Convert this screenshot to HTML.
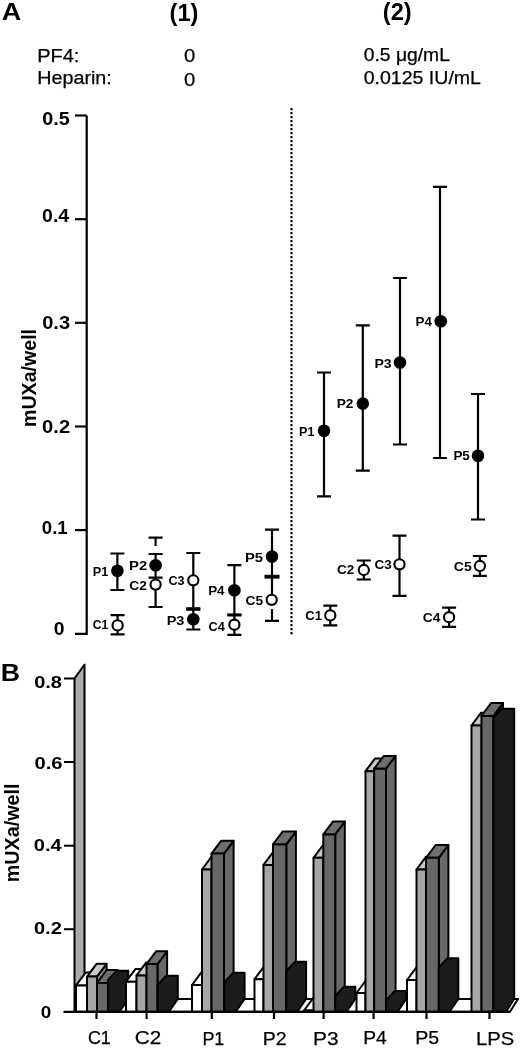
<!DOCTYPE html>
<html><head><meta charset="utf-8"><style>
html,body{margin:0;padding:0;background:#fff;width:520px;height:1048px;overflow:hidden}
</style></head><body>
<svg width="520" height="1048" viewBox="0 0 520 1048" style="display:block;will-change:transform">
<rect width="520" height="1048" fill="#fff"/>
<g stroke="#000" stroke-width="2.2" fill="none">
<path d="M86.7,115.5 V633.8 H75"/>
<path d="M75,530.1 H86.7"/>
<path d="M75,426.5 H86.7"/>
<path d="M75,322.8 H86.7"/>
<path d="M75,219.2 H86.7"/>
<path d="M75,115.5 H86.7"/>
</g>
<line x1="291.5" y1="108" x2="291.5" y2="636" stroke="#000" stroke-width="2.2" stroke-dasharray="2.2 1.8"/>
<path d="M117.4,553.5 V590 M110.4,553.5 h14 M110.4,590 h14" stroke="#000" stroke-width="2.2" fill="none"/>
<circle cx="117.4" cy="570.8" r="6.3" fill="#000"/>
<path d="M117.6,615.2 V634.4 M110.6,615.2 h14 M110.6,634.4 h14" stroke="#000" stroke-width="2.2" fill="none"/>
<circle cx="117.6" cy="625.4" r="5.1" fill="#fff" stroke="#000" stroke-width="2.1"/>
<path d="M155.6,537.7 V546 M148.6,537.7 h14" stroke="#000" stroke-width="2.2" fill="none"/>
<path d="M155.6,554 V577.7 M148.6,554 h14 M148.6,577.7 h14" stroke="#000" stroke-width="2.2" fill="none"/>
<circle cx="155.6" cy="565.2" r="6.3" fill="#000"/>
<path d="M155.6,577.7 V607 M148.6,607 h14" stroke="#000" stroke-width="2.2" fill="none"/>
<circle cx="155.6" cy="584.6" r="5.1" fill="#fff" stroke="#000" stroke-width="2.1"/>
<path d="M193.3,553 V609 M186.3,553 h14 M186.3,609 h14" stroke="#000" stroke-width="2.2" fill="none"/>
<circle cx="193.3" cy="580.3" r="5.1" fill="#fff" stroke="#000" stroke-width="2.1"/>
<path d="M186.3,609 h14" stroke="#000" stroke-width="3.6"/>
<path d="M193.3,609 V629.5 M186.3,629.5 h14" stroke="#000" stroke-width="2.2" fill="none"/>
<circle cx="193.3" cy="619.2" r="6.3" fill="#000"/>
<path d="M234.4,565.2 V614.8 M227.4,565.2 h14 M227.4,614.8 h14" stroke="#000" stroke-width="2.2" fill="none"/>
<circle cx="234.4" cy="590.3" r="6.3" fill="#000"/>
<path d="M227.4,615 h14" stroke="#000" stroke-width="3.0"/>
<path d="M234.4,614.8 V634.8 M227.4,634.8 h14" stroke="#000" stroke-width="2.2" fill="none"/>
<circle cx="234.4" cy="624.7" r="5.1" fill="#fff" stroke="#000" stroke-width="2.1"/>
<path d="M272,529.6 V576.7 M265.0,529.6 h14 M265.0,576.7 h14" stroke="#000" stroke-width="2.2" fill="none"/>
<circle cx="272" cy="556.5" r="6.3" fill="#000"/>
<path d="M264.5,576.7 h15" stroke="#000" stroke-width="3.8"/>
<path d="M272,576.7 V594" stroke="#000" stroke-width="2.2" fill="none"/>
<path d="M272,609 V620.8 M265.0,620.8 h14" stroke="#000" stroke-width="2.2" fill="none"/>
<circle cx="271.7" cy="599.8" r="5.1" fill="#fff" stroke="#000" stroke-width="2.1"/>
<path d="M324,372.5 V496.3 M317.0,372.5 h14 M317.0,496.3 h14" stroke="#000" stroke-width="2.2" fill="none"/>
<circle cx="324" cy="430.8" r="6.3" fill="#000"/>
<path d="M362.8,325.4 V470.6 M355.8,325.4 h14 M355.8,470.6 h14" stroke="#000" stroke-width="2.2" fill="none"/>
<circle cx="362.8" cy="403.6" r="6.3" fill="#000"/>
<path d="M400,278 V444.5 M393.0,278 h14 M393.0,444.5 h14" stroke="#000" stroke-width="2.2" fill="none"/>
<circle cx="400" cy="362.5" r="6.3" fill="#000"/>
<path d="M440,186.9 V458 M433.0,186.9 h14 M433.0,458 h14" stroke="#000" stroke-width="2.2" fill="none"/>
<circle cx="440.8" cy="321.2" r="6.3" fill="#000"/>
<path d="M478,394 V519.5 M471.0,394 h14 M471.0,519.5 h14" stroke="#000" stroke-width="2.2" fill="none"/>
<circle cx="478" cy="455.8" r="6.3" fill="#000"/>
<path d="M330.3,605.7 V625.4 M323.3,605.7 h14 M323.3,625.4 h14" stroke="#000" stroke-width="2.2" fill="none"/>
<circle cx="330.3" cy="615.4" r="5.1" fill="#fff" stroke="#000" stroke-width="2.1"/>
<path d="M363.8,560.5 V579.5 M356.8,560.5 h14 M356.8,579.5 h14" stroke="#000" stroke-width="2.2" fill="none"/>
<circle cx="363.8" cy="570" r="5.1" fill="#fff" stroke="#000" stroke-width="2.1"/>
<path d="M399.5,535.7 V595.8 M392.5,535.7 h14 M392.5,595.8 h14" stroke="#000" stroke-width="2.2" fill="none"/>
<circle cx="399.5" cy="564.3" r="5.1" fill="#fff" stroke="#000" stroke-width="2.1"/>
<path d="M449.1,607.6 V626.8 M442.1,607.6 h14 M442.1,626.8 h14" stroke="#000" stroke-width="2.2" fill="none"/>
<circle cx="449.1" cy="617.2" r="5.1" fill="#fff" stroke="#000" stroke-width="2.1"/>
<path d="M479.9,556 V575.9 M472.9,556 h14 M472.9,575.9 h14" stroke="#000" stroke-width="2.2" fill="none"/>
<circle cx="479.9" cy="566" r="5.1" fill="#fff" stroke="#000" stroke-width="2.1"/>
<polygon points="74.5,1011.8 510.0,1011.8 518.0,999.0 84.5,999.0" fill="#fff" stroke="#000" stroke-width="2.0" stroke-linejoin="round"/>
<polygon points="74.5,1011.8 74.5,678.5 84.5,664.5 84.5,999.0" fill="#acacac" stroke="#000" stroke-width="2.0" stroke-linejoin="round"/>
<polygon points="87.0,1011.8 87.0,985.4 96.6,972.6 96.6,999.0" fill="#ffffff" stroke="#000" stroke-width="2.0" stroke-linejoin="round"/>
<polygon points="76.0,985.4 87.0,985.4 96.6,972.6 85.6,972.6" fill="#ffffff" stroke="#000" stroke-width="2.0" stroke-linejoin="round"/>
<polygon points="76.0,1011.8 76.0,985.4 87.0,985.4 87.0,1011.8" fill="#ffffff" stroke="#000" stroke-width="2.0" stroke-linejoin="round"/>
<polygon points="97.0,1011.8 97.0,976.6 106.6,963.8 106.6,999.0" fill="#969696" stroke="#000" stroke-width="2.0" stroke-linejoin="round"/>
<polygon points="87.0,976.6 97.0,976.6 106.6,963.8 96.6,963.8" fill="#c8c8c8" stroke="#000" stroke-width="2.0" stroke-linejoin="round"/>
<polygon points="87.0,1011.8 87.0,976.6 97.0,976.6 97.0,1011.8" fill="#a6a6a6" stroke="#000" stroke-width="2.0" stroke-linejoin="round"/>
<polygon points="108.0,1011.8 108.0,982.9 117.6,970.1 117.6,999.0" fill="#696969" stroke="#000" stroke-width="2.0" stroke-linejoin="round"/>
<polygon points="97.0,982.9 108.0,982.9 117.6,970.1 106.6,970.1" fill="#6e6e6e" stroke="#000" stroke-width="2.0" stroke-linejoin="round"/>
<polygon points="97.0,1011.8 97.0,982.9 108.0,982.9 108.0,1011.8" fill="#676767" stroke="#000" stroke-width="2.0" stroke-linejoin="round"/>
<polygon points="108.0,1011.8 108.0,980.0 116.8,970.8 128.3,970.8 128.3,999.0 119.5,1011.8" fill="#1c1c1c" stroke="#000" stroke-width="2.0" stroke-linejoin="round"/>
<polygon points="136.5,1011.8 136.5,981.7 146.1,968.9 146.1,999.0" fill="#ffffff" stroke="#000" stroke-width="2.0" stroke-linejoin="round"/>
<polygon points="126.0,981.7 136.5,981.7 146.1,968.9 135.6,968.9" fill="#ffffff" stroke="#000" stroke-width="2.0" stroke-linejoin="round"/>
<polygon points="126.0,1011.8 126.0,981.7 136.5,981.7 136.5,1011.8" fill="#ffffff" stroke="#000" stroke-width="2.0" stroke-linejoin="round"/>
<polygon points="146.5,1011.8 146.5,975.4 156.1,962.6 156.1,999.0" fill="#969696" stroke="#000" stroke-width="2.0" stroke-linejoin="round"/>
<polygon points="136.5,975.4 146.5,975.4 156.1,962.6 146.1,962.6" fill="#c8c8c8" stroke="#000" stroke-width="2.0" stroke-linejoin="round"/>
<polygon points="136.5,1011.8 136.5,975.4 146.5,975.4 146.5,1011.8" fill="#a6a6a6" stroke="#000" stroke-width="2.0" stroke-linejoin="round"/>
<polygon points="157.5,1011.8 157.5,964.1 167.1,951.3 167.1,999.0" fill="#696969" stroke="#000" stroke-width="2.0" stroke-linejoin="round"/>
<polygon points="146.5,964.1 157.5,964.1 167.1,951.3 156.1,951.3" fill="#6e6e6e" stroke="#000" stroke-width="2.0" stroke-linejoin="round"/>
<polygon points="146.5,1011.8 146.5,964.1 157.5,964.1 157.5,1011.8" fill="#676767" stroke="#000" stroke-width="2.0" stroke-linejoin="round"/>
<polygon points="157.5,1011.8 157.5,985.0 166.3,975.8 177.8,975.8 177.8,999.0 169.0,1011.8" fill="#1c1c1c" stroke="#000" stroke-width="2.0" stroke-linejoin="round"/>
<polygon points="202.0,1011.8 202.0,985.0 211.6,972.2 211.6,999.0" fill="#ffffff" stroke="#000" stroke-width="2.0" stroke-linejoin="round"/>
<polygon points="192.0,985.0 202.0,985.0 211.6,972.2 201.6,972.2" fill="#ffffff" stroke="#000" stroke-width="2.0" stroke-linejoin="round"/>
<polygon points="192.0,1011.8 192.0,985.0 202.0,985.0 202.0,1011.8" fill="#ffffff" stroke="#000" stroke-width="2.0" stroke-linejoin="round"/>
<polygon points="211.5,1011.8 211.5,869.5 221.1,856.7 221.1,999.0" fill="#969696" stroke="#000" stroke-width="2.0" stroke-linejoin="round"/>
<polygon points="202.0,869.5 211.5,869.5 221.1,856.7 211.6,856.7" fill="#c8c8c8" stroke="#000" stroke-width="2.0" stroke-linejoin="round"/>
<polygon points="202.0,1011.8 202.0,869.5 211.5,869.5 211.5,1011.8" fill="#a6a6a6" stroke="#000" stroke-width="2.0" stroke-linejoin="round"/>
<polygon points="224.0,1011.8 224.0,853.6 233.6,840.8 233.6,999.0" fill="#696969" stroke="#000" stroke-width="2.0" stroke-linejoin="round"/>
<polygon points="211.5,853.6 224.0,853.6 233.6,840.8 221.1,840.8" fill="#6e6e6e" stroke="#000" stroke-width="2.0" stroke-linejoin="round"/>
<polygon points="211.5,1011.8 211.5,853.6 224.0,853.6 224.0,1011.8" fill="#676767" stroke="#000" stroke-width="2.0" stroke-linejoin="round"/>
<polygon points="224.5,1011.8 224.5,982.0 233.3,972.8 244.6,972.8 244.6,999.0 235.8,1011.8" fill="#1c1c1c" stroke="#000" stroke-width="2.0" stroke-linejoin="round"/>
<polygon points="263.5,1011.8 263.5,979.2 273.1,966.4 273.1,999.0" fill="#ffffff" stroke="#000" stroke-width="2.0" stroke-linejoin="round"/>
<polygon points="254.5,979.2 263.5,979.2 273.1,966.4 264.1,966.4" fill="#ffffff" stroke="#000" stroke-width="2.0" stroke-linejoin="round"/>
<polygon points="254.5,1011.8 254.5,979.2 263.5,979.2 263.5,1011.8" fill="#ffffff" stroke="#000" stroke-width="2.0" stroke-linejoin="round"/>
<polygon points="273.0,1011.8 273.0,864.9 282.6,852.1 282.6,999.0" fill="#969696" stroke="#000" stroke-width="2.0" stroke-linejoin="round"/>
<polygon points="263.5,864.9 273.0,864.9 282.6,852.1 273.1,852.1" fill="#c8c8c8" stroke="#000" stroke-width="2.0" stroke-linejoin="round"/>
<polygon points="263.5,1011.8 263.5,864.9 273.0,864.9 273.0,1011.8" fill="#a6a6a6" stroke="#000" stroke-width="2.0" stroke-linejoin="round"/>
<polygon points="286.3,1011.8 286.3,844.4 295.9,831.6 295.9,999.0" fill="#696969" stroke="#000" stroke-width="2.0" stroke-linejoin="round"/>
<polygon points="273.0,844.4 286.3,844.4 295.9,831.6 282.6,831.6" fill="#6e6e6e" stroke="#000" stroke-width="2.0" stroke-linejoin="round"/>
<polygon points="273.0,1011.8 273.0,844.4 286.3,844.4 286.3,1011.8" fill="#676767" stroke="#000" stroke-width="2.0" stroke-linejoin="round"/>
<polygon points="286.3,1011.8 286.3,971.0 295.1,961.8 306.1,961.8 306.1,999.0 297.3,1011.8" fill="#1c1c1c" stroke="#000" stroke-width="2.0" stroke-linejoin="round"/>
<polygon points="313.5,1011.8 313.5,1010.5 323.1,997.7 323.1,999.0" fill="#ffffff" stroke="#000" stroke-width="2.0" stroke-linejoin="round"/>
<polygon points="304.0,1010.5 313.5,1010.5 323.1,997.7 313.6,997.7" fill="#ffffff" stroke="#000" stroke-width="2.0" stroke-linejoin="round"/>
<polygon points="304.0,1011.8 304.0,1010.5 313.5,1010.5 313.5,1011.8" fill="#ffffff" stroke="#000" stroke-width="2.0" stroke-linejoin="round"/>
<polygon points="323.3,1011.8 323.3,857.8 332.9,845.0 332.9,999.0" fill="#969696" stroke="#000" stroke-width="2.0" stroke-linejoin="round"/>
<polygon points="313.5,857.8 323.3,857.8 332.9,845.0 323.1,845.0" fill="#c8c8c8" stroke="#000" stroke-width="2.0" stroke-linejoin="round"/>
<polygon points="313.5,1011.8 313.5,857.8 323.3,857.8 323.3,1011.8" fill="#a6a6a6" stroke="#000" stroke-width="2.0" stroke-linejoin="round"/>
<polygon points="335.2,1011.8 335.2,834.4 344.8,821.6 344.8,999.0" fill="#696969" stroke="#000" stroke-width="2.0" stroke-linejoin="round"/>
<polygon points="323.3,834.4 335.2,834.4 344.8,821.6 332.9,821.6" fill="#6e6e6e" stroke="#000" stroke-width="2.0" stroke-linejoin="round"/>
<polygon points="323.3,1011.8 323.3,834.4 335.2,834.4 335.2,1011.8" fill="#676767" stroke="#000" stroke-width="2.0" stroke-linejoin="round"/>
<polygon points="335.2,1011.8 335.2,996.0 344.0,986.8 355.3,986.8 355.3,999.0 346.5,1011.8" fill="#1c1c1c" stroke="#000" stroke-width="2.0" stroke-linejoin="round"/>
<polygon points="365.5,1011.8 365.5,993.0 375.1,980.2 375.1,999.0" fill="#ffffff" stroke="#000" stroke-width="2.0" stroke-linejoin="round"/>
<polygon points="356.5,993.0 365.5,993.0 375.1,980.2 366.1,980.2" fill="#ffffff" stroke="#000" stroke-width="2.0" stroke-linejoin="round"/>
<polygon points="356.5,1011.8 356.5,993.0 365.5,993.0 365.5,1011.8" fill="#ffffff" stroke="#000" stroke-width="2.0" stroke-linejoin="round"/>
<polygon points="374.2,1011.8 374.2,771.2 383.8,758.4 383.8,999.0" fill="#969696" stroke="#000" stroke-width="2.0" stroke-linejoin="round"/>
<polygon points="365.5,771.2 374.2,771.2 383.8,758.4 375.1,758.4" fill="#c8c8c8" stroke="#000" stroke-width="2.0" stroke-linejoin="round"/>
<polygon points="365.5,1011.8 365.5,771.2 374.2,771.2 374.2,1011.8" fill="#a6a6a6" stroke="#000" stroke-width="2.0" stroke-linejoin="round"/>
<polygon points="386.0,1011.8 386.0,768.7 395.6,755.9 395.6,999.0" fill="#696969" stroke="#000" stroke-width="2.0" stroke-linejoin="round"/>
<polygon points="374.2,768.7 386.0,768.7 395.6,755.9 383.8,755.9" fill="#6e6e6e" stroke="#000" stroke-width="2.0" stroke-linejoin="round"/>
<polygon points="374.2,1011.8 374.2,768.7 386.0,768.7 386.0,1011.8" fill="#676767" stroke="#000" stroke-width="2.0" stroke-linejoin="round"/>
<polygon points="386.0,1011.8 386.0,1000.1 394.8,990.9 406.3,990.9 406.3,999.0 397.5,1011.8" fill="#1c1c1c" stroke="#000" stroke-width="2.0" stroke-linejoin="round"/>
<polygon points="416.5,1011.8 416.5,980.0 426.1,967.2 426.1,999.0" fill="#ffffff" stroke="#000" stroke-width="2.0" stroke-linejoin="round"/>
<polygon points="407.0,980.0 416.5,980.0 426.1,967.2 416.6,967.2" fill="#ffffff" stroke="#000" stroke-width="2.0" stroke-linejoin="round"/>
<polygon points="407.0,1011.8 407.0,980.0 416.5,980.0 416.5,1011.8" fill="#ffffff" stroke="#000" stroke-width="2.0" stroke-linejoin="round"/>
<polygon points="426.0,1011.8 426.0,869.5 435.6,856.7 435.6,999.0" fill="#969696" stroke="#000" stroke-width="2.0" stroke-linejoin="round"/>
<polygon points="416.5,869.5 426.0,869.5 435.6,856.7 426.1,856.7" fill="#c8c8c8" stroke="#000" stroke-width="2.0" stroke-linejoin="round"/>
<polygon points="416.5,1011.8 416.5,869.5 426.0,869.5 426.0,1011.8" fill="#a6a6a6" stroke="#000" stroke-width="2.0" stroke-linejoin="round"/>
<polygon points="438.8,1011.8 438.8,857.8 448.4,845.0 448.4,999.0" fill="#696969" stroke="#000" stroke-width="2.0" stroke-linejoin="round"/>
<polygon points="426.0,857.8 438.8,857.8 448.4,845.0 435.6,845.0" fill="#6e6e6e" stroke="#000" stroke-width="2.0" stroke-linejoin="round"/>
<polygon points="426.0,1011.8 426.0,857.8 438.8,857.8 438.8,1011.8" fill="#676767" stroke="#000" stroke-width="2.0" stroke-linejoin="round"/>
<polygon points="438.8,1011.8 438.8,967.5 447.6,958.3 458.3,958.3 458.3,999.0 449.5,1011.8" fill="#1c1c1c" stroke="#000" stroke-width="2.0" stroke-linejoin="round"/>
<polygon points="481.5,1011.8 481.5,725.5 491.1,712.7 491.1,999.0" fill="#969696" stroke="#000" stroke-width="2.0" stroke-linejoin="round"/>
<polygon points="471.5,725.5 481.5,725.5 491.1,712.7 481.1,712.7" fill="#c8c8c8" stroke="#000" stroke-width="2.0" stroke-linejoin="round"/>
<polygon points="471.5,1011.8 471.5,725.5 481.5,725.5 481.5,1011.8" fill="#a6a6a6" stroke="#000" stroke-width="2.0" stroke-linejoin="round"/>
<polygon points="493.4,1011.8 493.4,715.9 503.0,703.1 503.0,999.0" fill="#696969" stroke="#000" stroke-width="2.0" stroke-linejoin="round"/>
<polygon points="481.5,715.9 493.4,715.9 503.0,703.1 491.1,703.1" fill="#6e6e6e" stroke="#000" stroke-width="2.0" stroke-linejoin="round"/>
<polygon points="481.5,1011.8 481.5,715.9 493.4,715.9 493.4,1011.8" fill="#676767" stroke="#000" stroke-width="2.0" stroke-linejoin="round"/>
<polygon points="493.4,1011.8 493.4,718.0 501.6,708.8 514.2,708.8 514.2,999.0 506.0,1011.8" fill="#1c1c1c" stroke="#000" stroke-width="2.0" stroke-linejoin="round"/>
<g stroke="#000" stroke-width="2.2" fill="none">
<path d="M63.5,1011.8 H510"/>
<path d="M64,678.5 H74.5" stroke-width="2"/>
<path d="M64,762.0 H74.5" stroke-width="2"/>
<path d="M64,845.7 H74.5" stroke-width="2"/>
<path d="M64,929.2 H74.5" stroke-width="2"/>
<path d="M96.5,1011.8 V1019"/>
<path d="M146.6,1011.8 V1019"/>
<path d="M211.8,1011.8 V1019"/>
<path d="M274,1011.8 V1019"/>
<path d="M323.6,1011.8 V1019"/>
<path d="M373.6,1011.8 V1019"/>
<path d="M426.5,1011.8 V1019"/>
<path d="M489.5,1011.8 V1019"/>
</g>
<g font-family="'Liberation Sans', sans-serif" fill="#000">
<text x="1.88" y="20.40" font-size="24.66" font-weight="bold" textLength="19.45" lengthAdjust="spacingAndGlyphs">A</text>
<text x="169.52" y="20.60" font-size="23.58" font-weight="bold" textLength="28.91" lengthAdjust="spacingAndGlyphs">(1)</text>
<text x="382.83" y="19.60" font-size="23.01" font-weight="bold" textLength="28.91" lengthAdjust="spacingAndGlyphs">(2)</text>
<text x="37.19" y="62.16" font-size="18.95" stroke="#000" stroke-width="0.25" textLength="42.21" lengthAdjust="spacingAndGlyphs">PF4:</text>
<text x="37.16" y="84.08" font-size="18.05" stroke="#000" stroke-width="0.25" textLength="74.69" lengthAdjust="spacingAndGlyphs">Heparin:</text>
<text x="184.07" y="61.94" font-size="19.00" stroke="#000" stroke-width="0.25" textLength="11.28" lengthAdjust="spacingAndGlyphs">0</text>
<text x="184.05" y="85.69" font-size="19.00" stroke="#000" stroke-width="0.25" textLength="11.29" lengthAdjust="spacingAndGlyphs">0</text>
<text x="363.71" y="61.10" font-size="17.76" stroke="#000" stroke-width="0.25" textLength="86.19" lengthAdjust="spacingAndGlyphs">0.5 μg/mL</text>
<text x="363.65" y="83.72" font-size="18.79" stroke="#000" stroke-width="0.25" textLength="117.36" lengthAdjust="spacingAndGlyphs">0.0125 IU/mL</text>
<text x="42.17" y="124.60" font-size="18.60" font-weight="bold" textLength="27.50" lengthAdjust="spacingAndGlyphs">0.5</text>
<text x="42.14" y="221.60" font-size="18.60" font-weight="bold" textLength="27.09" lengthAdjust="spacingAndGlyphs">0.4</text>
<text x="42.16" y="328.60" font-size="18.60" font-weight="bold" textLength="27.90" lengthAdjust="spacingAndGlyphs">0.3</text>
<text x="42.13" y="432.80" font-size="18.60" font-weight="bold" textLength="28.04" lengthAdjust="spacingAndGlyphs">0.2</text>
<text x="41.84" y="534.00" font-size="18.60" font-weight="bold" textLength="25.86" lengthAdjust="spacingAndGlyphs">0.1</text>
<text x="53.78" y="635.30" font-size="18.60" font-weight="bold" textLength="10.79" lengthAdjust="spacingAndGlyphs">0</text>
<text transform="translate(36.06,427.01) rotate(-90)" font-size="20.33" font-weight="bold" textLength="98.06" lengthAdjust="spacingAndGlyphs">mUXa/well</text>
<text x="0.76" y="681.00" font-size="23.95" font-weight="bold" textLength="19.31" lengthAdjust="spacingAndGlyphs">B</text>
<text x="34.20" y="687.80" font-size="17.20" font-weight="bold" textLength="27.81" lengthAdjust="spacingAndGlyphs">0.8</text>
<text x="34.49" y="768.80" font-size="17.20" font-weight="bold" textLength="28.07" lengthAdjust="spacingAndGlyphs">0.6</text>
<text x="33.77" y="851.40" font-size="17.20" font-weight="bold" textLength="27.98" lengthAdjust="spacingAndGlyphs">0.4</text>
<text x="33.92" y="934.00" font-size="17.20" font-weight="bold" textLength="27.90" lengthAdjust="spacingAndGlyphs">0.2</text>
<text x="40.73" y="1017.65" font-size="17.20" font-weight="bold" textLength="10.53" lengthAdjust="spacingAndGlyphs">0</text>
<text transform="translate(19.46,882.30) rotate(-90)" font-size="19.94" font-weight="bold" textLength="98.84" lengthAdjust="spacingAndGlyphs">mUXa/well</text>
<text x="88.01" y="1043.52" font-size="19.10" stroke="#000" stroke-width="0.25" textLength="22.79" lengthAdjust="spacingAndGlyphs">C1</text>
<text x="134.84" y="1043.52" font-size="19.10" stroke="#000" stroke-width="0.25" textLength="26.47" lengthAdjust="spacingAndGlyphs">C2</text>
<text x="202.39" y="1044.52" font-size="19.10" stroke="#000" stroke-width="0.25" textLength="22.00" lengthAdjust="spacingAndGlyphs">P1</text>
<text x="262.83" y="1044.52" font-size="19.10" stroke="#000" stroke-width="0.25" textLength="23.87" lengthAdjust="spacingAndGlyphs">P2</text>
<text x="313.14" y="1044.56" font-size="19.10" stroke="#000" stroke-width="0.25" textLength="25.58" lengthAdjust="spacingAndGlyphs">P3</text>
<text x="363.23" y="1044.06" font-size="19.10" stroke="#000" stroke-width="0.25" textLength="23.48" lengthAdjust="spacingAndGlyphs">P4</text>
<text x="415.31" y="1044.17" font-size="19.10" stroke="#000" stroke-width="0.25" textLength="23.95" lengthAdjust="spacingAndGlyphs">P5</text>
<text x="476.05" y="1044.72" font-size="19.10" stroke="#000" stroke-width="0.25" textLength="38.19" lengthAdjust="spacingAndGlyphs">LPS</text>
<text x="92.69" y="575.80" font-size="13.00" font-weight="bold" textLength="15.55" lengthAdjust="spacingAndGlyphs">P1</text>
<text x="92.86" y="629.40" font-size="13.00" font-weight="bold" textLength="15.47" lengthAdjust="spacingAndGlyphs">C1</text>
<text x="129.00" y="570.00" font-size="13.00" font-weight="bold" textLength="18.26" lengthAdjust="spacingAndGlyphs">P2</text>
<text x="129.37" y="590.00" font-size="13.00" font-weight="bold" textLength="17.60" lengthAdjust="spacingAndGlyphs">C2</text>
<text x="168.41" y="585.00" font-size="13.00" font-weight="bold" textLength="16.09" lengthAdjust="spacingAndGlyphs">C3</text>
<text x="166.66" y="625.00" font-size="13.00" font-weight="bold" textLength="17.79" lengthAdjust="spacingAndGlyphs">P3</text>
<text x="208.16" y="595.13" font-size="13.00" font-weight="bold" textLength="16.43" lengthAdjust="spacingAndGlyphs">P4</text>
<text x="208.47" y="630.60" font-size="13.00" font-weight="bold" textLength="16.23" lengthAdjust="spacingAndGlyphs">C4</text>
<text x="244.96" y="562.00" font-size="13.00" font-weight="bold" textLength="18.14" lengthAdjust="spacingAndGlyphs">P5</text>
<text x="245.44" y="605.00" font-size="13.00" font-weight="bold" textLength="17.62" lengthAdjust="spacingAndGlyphs">C5</text>
<text x="299.11" y="435.80" font-size="13.00" font-weight="bold" textLength="15.33" lengthAdjust="spacingAndGlyphs">P1</text>
<text x="336.76" y="408.40" font-size="13.00" font-weight="bold" textLength="16.73" lengthAdjust="spacingAndGlyphs">P2</text>
<text x="374.44" y="367.60" font-size="13.00" font-weight="bold" textLength="17.25" lengthAdjust="spacingAndGlyphs">P3</text>
<text x="415.61" y="325.69" font-size="13.00" font-weight="bold" textLength="16.33" lengthAdjust="spacingAndGlyphs">P4</text>
<text x="453.42" y="460.49" font-size="13.00" font-weight="bold" textLength="16.44" lengthAdjust="spacingAndGlyphs">P5</text>
<text x="305.20" y="620.00" font-size="13.00" font-weight="bold" textLength="16.81" lengthAdjust="spacingAndGlyphs">C1</text>
<text x="337.08" y="574.20" font-size="13.00" font-weight="bold" textLength="17.29" lengthAdjust="spacingAndGlyphs">C2</text>
<text x="374.59" y="569.45" font-size="13.00" font-weight="bold" textLength="17.29" lengthAdjust="spacingAndGlyphs">C3</text>
<text x="422.75" y="622.40" font-size="13.00" font-weight="bold" textLength="17.69" lengthAdjust="spacingAndGlyphs">C4</text>
<text x="453.76" y="570.80" font-size="13.00" font-weight="bold" textLength="17.94" lengthAdjust="spacingAndGlyphs">C5</text>
</g>
</svg>
</body></html>
